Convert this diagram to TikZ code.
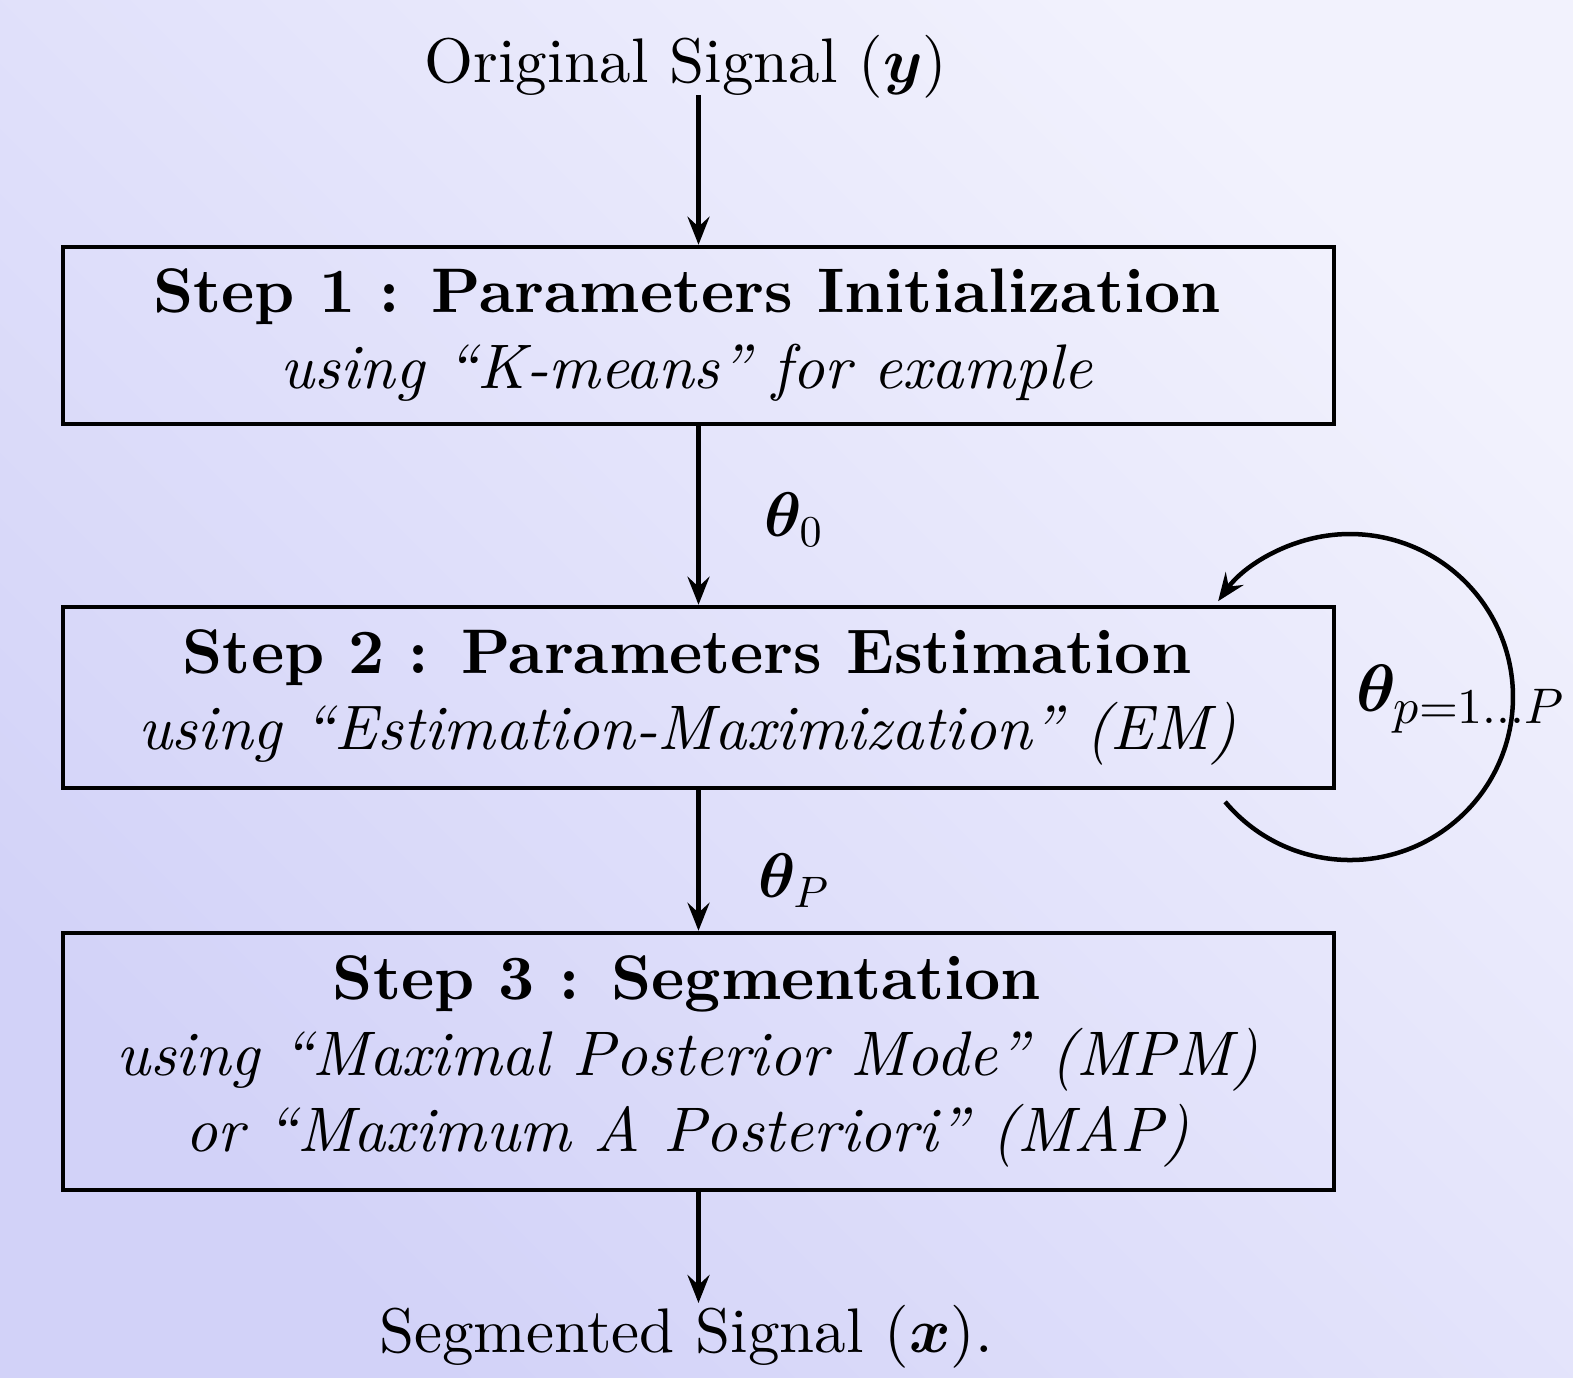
\documentclass[tikz,border=0pt]{standalone}
\usepackage{amsmath}
\usepackage{bm}
\usepackage{fontspec}
\setmainfont{lmroman10}[Extension=.otf, UprightFont=*-regular, BoldFont=*-bold, ItalicFont=*-italic, BoldItalicFont=*-bolditalic]
\usetikzlibrary{arrows.meta}

% freely scalable math fonts
\DeclareFontShape{OT1}{cmr}{m}{n}{<-> cmr10}{}
\DeclareFontShape{OT1}{cmr}{bx}{n}{<-> cmbx10}{}
\DeclareFontShape{OML}{cmm}{m}{it}{<-> cmmi10}{}
\DeclareFontShape{OML}{cmm}{b}{it}{<-> cmmib10}{}
\DeclareFontShape{OMS}{cmsy}{m}{n}{<-> cmsy10}{}
\DeclareFontShape{OMS}{cmsy}{b}{n}{<-> cmbsy10}{}
\DeclareSymbolFont{operators}{OT1}{cmr}{m}{n}
\SetSymbolFont{operators}{bold}{OT1}{cmr}{bx}{n}
\DeclareMathSizes{63}{63}{44}{32}
\DeclareMathSizes{67}{67}{50}{36}

\definecolor{bgdark}{RGB}{210,210,248}
\definecolor{bglight}{RGB}{242,242,253}

\begin{document}
\begin{tikzpicture}[x=1pt, y=1pt,
  font=\fontsize{63}{76}\selectfont,
  stepbox/.style={draw, line width=4.5pt, minimum width=1271pt, inner sep=0pt},
  steptext/.style={align=center, inner sep=0pt},
  lbl/.style={inner sep=0pt},
  flow/.style={line width=4.5pt, -{Stealth[length=28pt, width=22pt, inset=10pt]}},
]
% background
\useasboundingbox (0,0) rectangle (1573,1377);
\shade[top color=bglight, bottom color=bgdark, shading angle=-45] (0,0) rectangle (1573,1377);

% input / output
\node[lbl, anchor=base] (orig) at (686,1294) {Original Signal ($\bm{y}$)};
\coordinate (inTop) at (698.5,1282);
\node[lbl, anchor=base] (seg) at (686,25) {Segmented Signal ($\bm{x}$).};
\coordinate (outEnd) at (698.5,74);

% processing steps
\node[stepbox, minimum height=177pt] (s1) at (698.5,1041.5) {};
\node[steptext] (t1) at (687,1041.5) {\textbf{Step 1 : Parameters Initialization}\\
  \textit{using “K-means” for example}};

\node[stepbox, minimum height=181pt] (s2) at (698.5,679.5) {};
\node[steptext] (t2) at (687,679.5) {\textbf{Step 2 : Parameters Estimation}\\
  \textit{using “Estimation-Maximization” (EM)}};

\node[stepbox, minimum height=257pt] (s3) at (698.5,315.5) {};
\node[steptext] (t3) at (687,315.5) {\textbf{Step 3 : Segmentation}\\
  \textit{using “Maximal Posterior Mode” (MPM)}\\
  \textit{or “Maximum A Posteriori” (MAP)}};

% connectors
\draw[flow] (inTop) -- (s1.north);
\draw[flow] (s1.south) -- (s2.north);
\draw[flow] (s2.south) -- (s3.north);
\draw[flow] (s3.south) -- (outEnd);

% EM iteration loop
\coordinate (loopStart) at (1225.1,575.2);
\draw[flow] (loopStart) arc[start angle=220, end angle=504, radius=163];

% parameter labels
\node[lbl, anchor=base west] (th0) at (764,840) {$\bm{\theta}_0$};
\node[lbl, anchor=base west] (thP) at (758,479) {$\bm{\theta}_P$};
\node[lbl, anchor=base west, font=\fontsize{67}{80}\selectfont] (thp) at (1356,665) {$\bm{\theta}_{p=1\ldots P}$};
\end{tikzpicture}
\end{document}
